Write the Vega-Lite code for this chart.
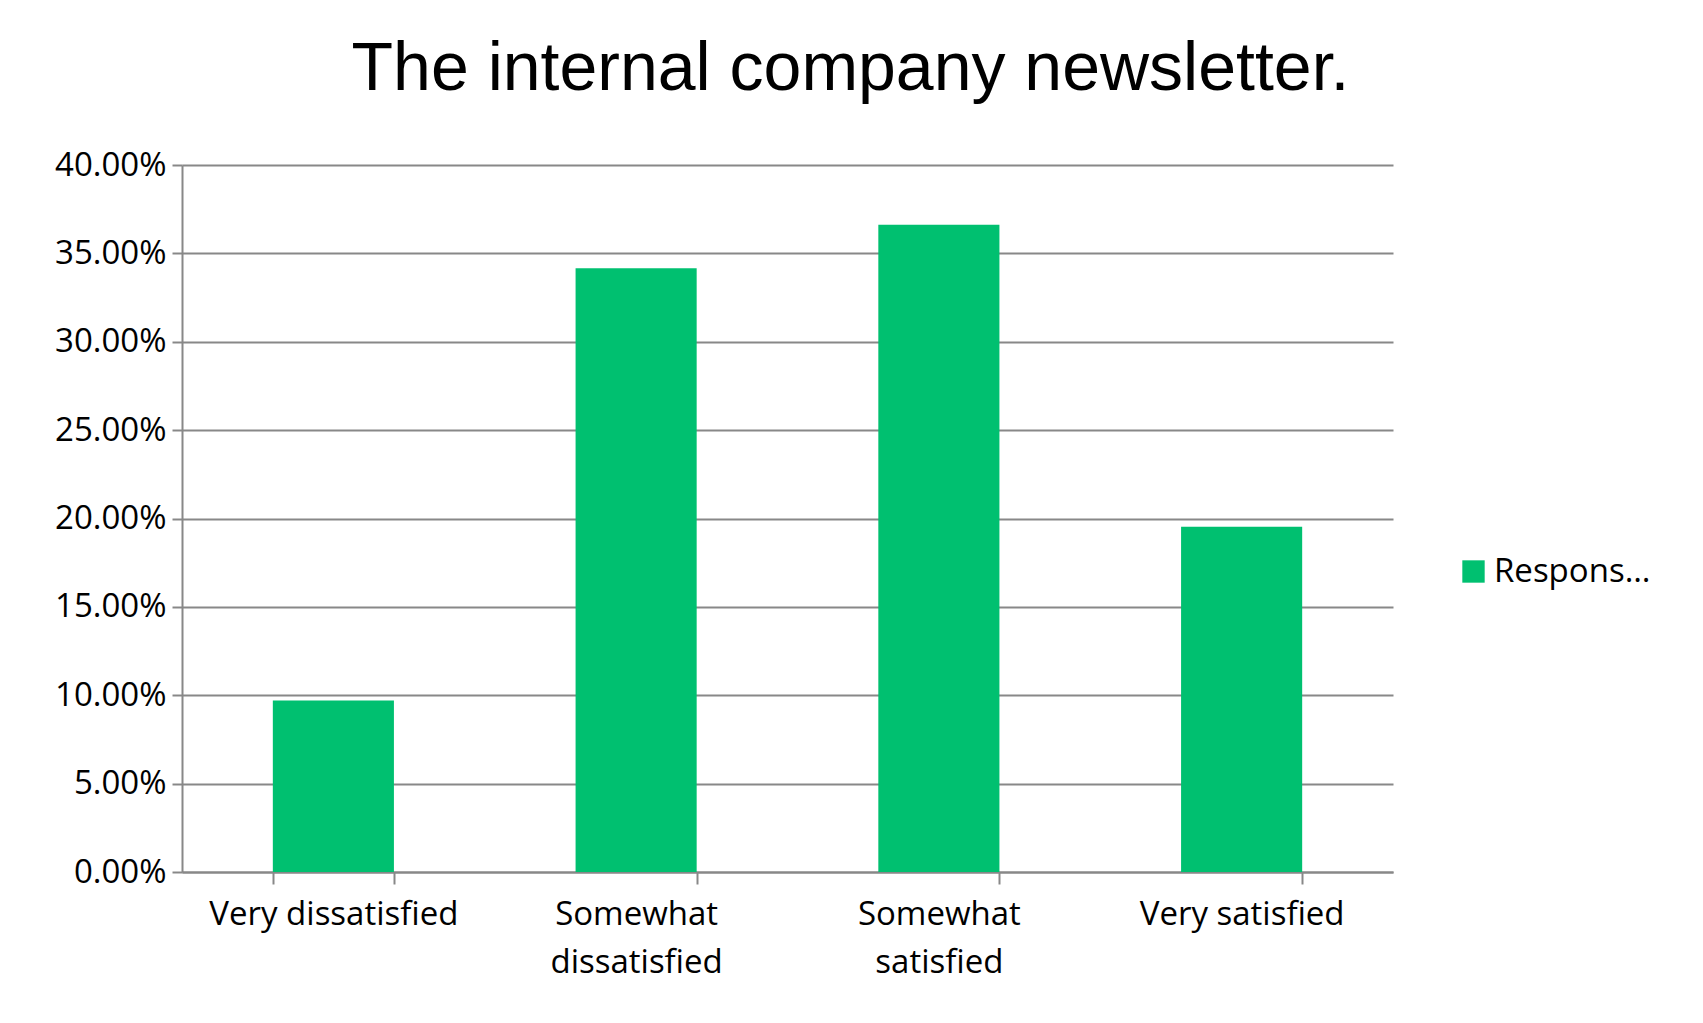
{
  "$schema": "https://vega.github.io/schema/vega-lite/v6.json",
  "autosize": "none",
  "width": 1211,
  "height": 707,
  "padding": {"left": 182, "top": 165, "right": 310, "bottom": 151},
  "background": "white",
  "title": {
    "text": "The internal company newsletter.",
    "font": "Liberation Sans",
    "fontSize": 68,
    "fontWeight": "normal",
    "color": "black",
    "anchor": "middle",
    "dx": 63,
    "offset": 45
  },
  "data": {
    "values": [
      {"category": "Very dissatisfied", "value": 0.0971, "series": "Responses"},
      {"category": "Somewhat dissatisfied", "value": 0.3416, "series": "Responses"},
      {"category": "Somewhat satisfied", "value": 0.3662, "series": "Responses"},
      {"category": "Very satisfied", "value": 0.1954, "series": "Responses"}
    ]
  },
  "mark": {"type": "bar"},
  "encoding": {
    "x": {
      "field": "category",
      "type": "nominal",
      "sort": null,
      "title": null,
      "scale": {"paddingInner": 0.6, "paddingOuter": 0.3},
      "axis": {
        "labelAngle": 0,
        "labelFont": "Open Sans",
        "labelFontSize": 33,
        "labelColor": "black",
        "labelPadding": 14,
        "labelLineHeight": 48,
        "labelLimit": 0,
        "labelOverlap": false,
        "labelExpr": "indexof(datum.label, 'Somewhat') == 0 ? split(datum.label, ' ') : datum.label",
        "tickBand": "extent",
        "domainColor": "#888888",
        "domainWidth": 2,
        "tickColor": "#888888",
        "tickWidth": 2,
        "tickSize": 12
      }
    },
    "y": {
      "field": "value",
      "type": "quantitative",
      "title": null,
      "scale": {"domain": [0, 0.4]},
      "axis": {
        "format": ".2%",
        "values": [0, 0.05, 0.1, 0.15, 0.2, 0.25, 0.3, 0.35, 0.4],
        "labelOverlap": false,
        "labelFont": "Open Sans",
        "labelFontSize": 33,
        "labelColor": "black",
        "labelPadding": 6,
        "gridColor": "#888888",
        "gridWidth": 2,
        "domainColor": "#888888",
        "domainWidth": 2,
        "tickColor": "#888888",
        "tickWidth": 2,
        "tickSize": 10
      }
    },
    "color": {
      "field": "series",
      "type": "nominal",
      "title": null,
      "scale": {"range": ["#00C070"]},
      "legend": {
        "orient": "none",
        "legendX": 1275,
        "legendY": 390,
        "symbolType": "square",
        "symbolSize": 500,
        "labelFont": "Open Sans",
        "labelFontSize": 33,
        "labelColor": "black"
      }
    }
  },
  "config": {"view": {"stroke": null}}
}
